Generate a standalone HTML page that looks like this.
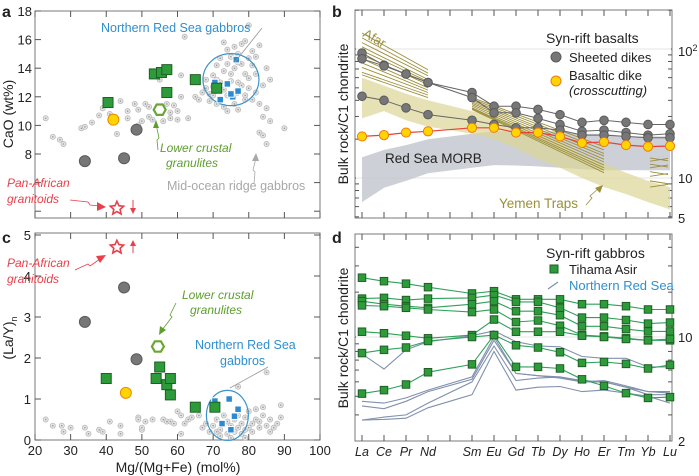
<!DOCTYPE html>
<html><head><meta charset="utf-8"><style>
html,body{margin:0;padding:0;background:#fff;}
svg{display:block;font-family:"Liberation Sans",Arial,sans-serif;}
</style></head><body>
<svg id="fig" width="699" height="476" viewBox="0 0 699 476" xmlns="http://www.w3.org/2000/svg"></svg>
<script>
// ---------- DATA ----------
const mgA_green=[40.5,53.5,55.5,57,57,65,71];
const caA_green=[11.6,13.6,13.7,13.9,12.3,13.2,12.6];
const mgA_blue=[70.5,74,76.5,75.5,76.5,77,72,75];
const caA_blue=[13.0,12.9,14.6,12.0,12.3,12.4,11.8,12.2];
const mgA_gray=[34,45,48.5];
const caA_gray=[7.5,7.7,9.7];
const mgA_yellow=[42]; const caA_yellow=[10.4];
const mgA_hex=[55]; const caA_hex=[11.1];
const mgA_star=[43]; const caA_star=[4.2];
const mgA_bg=[23,25,27,28,33,34,36,38,39,41,43,44,46,46,48,49,49,50,51,52,52,53,55,56,57,58,58,59,60,60,61,61,62,63,65,66,67,68,69,69,70,70,71,71,72,72,73,73,73,74,74,74,75,75,76,76,76,77,77,77,78,78,78,79,79,79,80,80,80,80,81,81,82,82,83,83,84,84,85,85,86,86,83,84,85,90,81,82,72,74,70,71,75,77,79,68,73];
const caA_bg=[10.5,9.2,9,8.7,9.8,9.9,10.2,10.7,11.2,10.8,9.4,11.7,10.5,11,11.5,11.1,10,10.3,11.5,10.6,11.3,10.4,13.2,10.3,11.5,10.9,10.5,11.4,11,10.4,12,13.5,16.2,10.5,12,11.8,12.3,12.6,11.7,12.2,13.5,12.1,14.2,11.5,13,14.7,11.3,13.8,12.5,14.3,15.3,11,14.8,13.6,15.5,14,11.5,13,15,11.1,15.7,12.8,14.3,13.6,15.9,11.8,14.7,12.6,13.3,17,15.2,14.2,12.3,13.6,15.6,11.5,12.8,10.6,11.2,14,13.2,10.3,9.5,9.3,8.7,9.8,11.8,14.8,11.8,12.1,12.7,13.2,13.1,14.4,12.1,13.2,15.8];

const mgC_green=[40,54,55,57,58,58,65,70.5];
const laC_green=[1.5,1.5,1.78,1.35,1.5,1.1,0.8,0.8];
const mgC_blue=[70.5,74.5,77,76,72.5,75];
const laC_blue=[0.95,1.0,0.75,0.58,0.4,0.25];
const mgC_gray=[34,45,48.5]; const laC_gray=[2.88,3.72,1.97];
const mgC_yellow=[45.5]; const laC_yellow=[1.15];
const mgC_hex=[54.5]; const laC_hex=[2.28];
const mgC_star=[43]; const laC_star=[4.7];
const mgC_bg=[23,25,27.5,28,30,34,35,38,39,41,44,44,49,49,50,50,51,53,56,57,58,59,60,61,61,62,63,64,66,67,68,69,70,71,71,72,73,74,74,75,76,76,77,77,78,78,79,79,80,80,81,81,82,82,83,83,84,84,85,85,86,86,87,88,89,89,75,72,79,77];
const laC_bg=[0.5,0.35,0.35,0.2,0.3,0.3,0.15,0.25,0.2,0.45,0.35,0.15,0.55,0.5,0.25,0.3,0.45,0.5,0.5,0.45,0.45,0.4,0.7,0.6,0.15,0.4,0.5,0.55,0.6,0.3,0.4,0.2,0.35,0.5,0.2,0.25,0.6,0.15,0.45,0.35,0.2,0.5,0.3,1.3,0.4,0.15,0.25,0.55,0.3,0.7,0.4,0.2,0.5,0.75,0.3,0.45,0.6,0.8,0.35,1.65,0.2,0.5,0.3,0.4,0.85,0.55,0.05,0.1,0.05,0.6];

const ree=["La","Ce","Pr","Nd","Pm","Sm","Eu","Gd","Tb","Dy","Ho","Er","Tm","Yb","Lu"];
const reeIdx=[0,1,2,3,5,6,7,8,9,10,11,12,13,14];
const dike1=[93,75,64,55,46,36,36,34,31,27,28,27,26,26];
const dike2=[84,74,64,55,42,32,32,29,26,23,23.5,22.5,21.5,22];
const dike3=[43,40,35,31,28,26,24.5,24.5,23.5,21.5,21.5,21,20.5,20.5];
const crossDike=[21,21.5,22.5,23,24.5,24.5,22.5,22.5,21,18.7,19,18,17.5,17.7];
const yemenUpper=[60,52,45,40,33,30,26,22,19,15,13,11,9.5,8.5];
const yemenLower=[29,33,28,25,22,20,17,14,12,10,8.5,7.5,6.5,5.7];
const morbUpper=[14.5,16.5,18,20,22,23,23,23,23,22,22,21,21,21];
const morbLower=[6.5,8.4,9.5,10.9,12,12.6,12.5,12.3,12,11.7,11.5,11.5,11.5,11.5];
const afarLa=[133,122,112,104,97,90,84,78,72,66,63];
const afarNd=[69,65,62,58,56,53,50,48,46,44,42];
const yemenSm=[42,41,40,39,38,37,36,35,34.5,34];
const yemenEr=[17.5,16.5,15.5,14.8,14,13.3,12.6,12,11.5,11];
const ybluSeg=[14.3,13.5,12.8,12,11.2,10.3,9.5,8.5];

const tihama=[
[25,23.7,22.8,21.6,19.6,20.3,17.9,17.9,17.9,16.6,16.6,16.1,15.3,15.3],
[18.1,18.3,17.7,18.1,18.3,19.1,17.2,17.2,15.7,13.5,13.5,13,12.3,12.5],
[17.4,16.6,16.1,15.7,16.6,17.4,14.9,14.9,14,11.8,11.8,11.3,10.9,10.9],
[16.3,16.1,15.7,15.3,14.7,15.3,12.6,12.9,11.9,10.3,10.1,9.8,9.5,9.5],
[10.85,10.6,10.2,9.8,10.3,13.1,10.85,10.85,10.85,10.2,10,9.7,9.5,9.7],
[7.8,8.2,8.5,9.4,10,10.3,8.8,8.5,7.9,6.7,6.8,6.6,6.15,6.5],
[4.17,4.4,4.8,5.8,6.55,10.3,6.3,6.3,6.15,5.2,4.7,4.2,3.9,3.95]];
const nrs=[
[7.7,6.1,8.2,9.3,10.2,11.0,9.3,8.7,8.6,7.4,7.2,7.2,6.3,6.3],
[3.7,3.6,3.9,4.4,5.4,10,5.7,5.5,5.4,5.0,5.1,4.7,4.3,4.3],
[3.45,3.3,3.7,4.3,5.2,9.5,5.7,5.5,5.3,5.0,5.0,4.6,4.3,4.2],
[2.77,2.9,3.0,3.6,5.0,8.7,5.1,5.3,5.4,5.1,5.0,4.6,4.1,4.1],
[2.77,2.8,2.85,3.35,4.1,8.0,4.4,4.6,4.65,4.3,4.4,4.2,4.0,3.6]];

// ---------- HELPERS ----------
const NS="http://www.w3.org/2000/svg";
const fig=document.getElementById('fig');
function mk(tag,attrs,parent,text){const e=document.createElementNS(NS,tag);for(const k in attrs)e.setAttribute(k,attrs[k]);if(text!==undefined)e.textContent=text;(parent||fig).appendChild(e);return e;}
const xA=v=>35+(v-20)*(285/80);
const yA=v=>11+(18-v)*14.3;
const yC=v=>440-v*41;
const xR=i=>362+i*22;
const yB=v=>178-(Math.log10(v)-1)*129;
const yD=v=>337-(Math.log10(v)-1)*149;

// ---------- FRAMES ----------
function frame(x0,y0,x1,y1,name){const r=mk('rect',{x:x0,y:y0,width:x1-x0,height:y1-y0,fill:'none',stroke:'#7a7a7a','stroke-width':1});}
frame(35,11,320,218,'panel-a-frame');
frame(35,233,320,440,'panel-c-frame');
frame(355,10,672,218,'panel-b-frame');
frame(355,234,672,441,'panel-d-frame');
const tk={stroke:'#555','stroke-width':1};
for(let v=20;v<=100;v+=10){const x=xA(v);
 mk('line',Object.assign({x1:x,y1:11,x2:x,y2:17},tk));mk('line',Object.assign({x1:x,y1:218,x2:x,y2:212},tk));
 mk('line',Object.assign({x1:x,y1:233,x2:x,y2:239},tk));mk('line',Object.assign({x1:x,y1:440,x2:x,y2:434},tk));
 const t=mk('text',{x:x,y:455,'font-size':13,'text-anchor':'middle',fill:'#222'},fig,String(v));
 }
for(let v=4;v<=18;v+=2){const y=yA(v);mk('line',Object.assign({x1:35,y1:y,x2:41,y2:y},tk));mk('line',Object.assign({x1:320,y1:y,x2:314,y2:y},tk));
 if(v>=8){const t=mk('text',{x:32,y:y+5,'font-size':13,'text-anchor':'end',fill:'#222'},fig,String(v));}}
for(let v=0;v<=5;v++){const y=yC(v);mk('line',Object.assign({x1:35,y1:y,x2:41,y2:y},tk));mk('line',Object.assign({x1:320,y1:y,x2:314,y2:y},tk));
 const t=mk('text',{x:31,y:y+5,'font-size':13,'text-anchor':'end',fill:'#222'},fig,String(v));}
for(let i=0;i<15;i++){const x=xR(i);
 mk('line',Object.assign({x1:x,y1:10,x2:x,y2:16},tk));mk('line',Object.assign({x1:x,y1:218,x2:x,y2:212},tk));
 mk('line',Object.assign({x1:x,y1:234,x2:x,y2:240},tk));mk('line',Object.assign({x1:x,y1:441,x2:x,y2:435},tk));
 if(ree[i]!=="Pm"){const t=mk('text',{x:x,y:456,'font-size':12.5,'font-style':'italic','text-anchor':'middle',fill:'#222'},fig,ree[i]);}}
[5,6,7,8,9,10,20,30,40,50,60,70,80,90,100,200].forEach(v=>{const y=yB(v);if(y<10||y>218)return;const L=(v===10||v===100)?6:4;mk('line',Object.assign({x1:355,y1:y,x2:355+L,y2:y},tk));mk('line',Object.assign({x1:672,y1:y,x2:672-L,y2:y},tk));});
[2,3,4,5,6,7,8,9,10,20,30,40,50].forEach(v=>{const y=yD(v);if(y<234||y>441)return;const L=(v===10)?6:4;mk('line',Object.assign({x1:355,y1:y,x2:355+L,y2:y},tk));mk('line',Object.assign({x1:672,y1:y,x2:672-L,y2:y},tk));});
mk('line',{x1:356,y1:yB(100),x2:671,y2:yB(100),stroke:'#e6e6e6'});
mk('line',{x1:356,y1:yB(10),x2:671,y2:yB(10),stroke:'#e6e6e6'});
mk('line',{x1:356,y1:yD(10),x2:671,y2:yD(10),stroke:'#e6e6e6'});
function txt(x,y,s,attrs,name){const t=mk('text',Object.assign({x:x,y:y,'font-size':13,fill:'#222'},attrs||{}),fig,s);return t;}
const r1=txt(678,56,'10',{},'y-tick-100');mk('tspan',{dy:-5,'font-size':9},r1,'2');
txt(678,183,'10',{},'y-tick-10-b');txt(678,223,'5',{},'y-tick-5');
txt(678,342,'10',{},'y-tick-10-d');txt(678,446,'2',{},'y-tick-2');
txt(2,17,'a',{'font-size':16,'font-weight':'bold'},'panel-label-a');
txt(332,17,'b',{'font-size':16,'font-weight':'bold'},'panel-label-b');
txt(2,243,'c',{'font-size':16,'font-weight':'bold'},'panel-label-c');
txt(332,243,'d',{'font-size':16,'font-weight':'bold'},'panel-label-d');
txt(0,0,'CaO (wt%)',{'font-size':14,'text-anchor':'middle',transform:'translate(13,114) rotate(-90)'},'y-axis-title-a');
const lt=txt(0,0,'(La/Y)',{'font-size':14,'text-anchor':'middle',transform:'translate(13,338) rotate(-90)'},'y-axis-title-c');mk('tspan',{dy:4,'font-size':9},lt,'n');
txt(178,472,'Mg/(Mg+Fe) (mol%)',{'font-size':14,'text-anchor':'middle'},'x-axis-title');
txt(0,0,'Bulk rock/C1 chondrite',{'font-size':14,'text-anchor':'middle',transform:'translate(348,114) rotate(-90)'},'y-axis-title-b');
txt(0,0,'Bulk rock/C1 chondrite',{'font-size':14,'text-anchor':'middle',transform:'translate(348,338) rotate(-90)'},'y-axis-title-d');

// ---------- MARKERS ----------
function bgDot(x,y,name){const g=mk('g',{});
 mk('circle',{cx:x,cy:y,r:2.6,fill:'#e4e4e4',stroke:'#b5b5b5','stroke-width':0.7},g);mk('circle',{cx:x,cy:y,r:0.8,fill:'#999'},g);}
function sq(x,y,s,fill,stroke,name){const r=mk('rect',{x:x-s/2,y:y-s/2,width:s,height:s,fill:fill,stroke:stroke,'stroke-width':1});}
function circ(x,y,r,fill,stroke,name){const c=mk('circle',{cx:x,cy:y,r:r,fill:fill,stroke:stroke,'stroke-width':1});}
function hex(x,y,name){let p=[];for(let k=0;k<6;k++){const a=Math.PI/3*k;p.push((x+6*Math.cos(a)).toFixed(1)+','+(y+6*Math.sin(a)).toFixed(1));}
 const h=mk('polygon',{points:p.join(' '),fill:'#fff',stroke:'#6aa632','stroke-width':2.2});}
function star(x,y,name){let p=[];for(let k=0;k<10;k++){const a=-Math.PI/2+Math.PI/5*k;const r=k%2?3.3:7;p.push((x+r*Math.cos(a)).toFixed(1)+','+(y+r*Math.sin(a)).toFixed(1));}
 const s=mk('polygon',{points:p.join(' '),fill:'#fff',stroke:'#e8404a','stroke-width':1.6});}

mgA_bg.forEach((m,i)=>bgDot(xA(m),yA(caA_bg[i]),'mor-gabbro-point'));
const ea=mk('ellipse',{cx:xA(75),cy:yA(13.2),rx:28,ry:26,fill:'none',stroke:'#3b93c9','stroke-width':1.2});
mgA_blue.forEach((m,i)=>sq(xA(m),yA(caA_blue[i]),6.5,'#2b8ad0','#fff','nrs-gabbro-a'));
mgA_green.forEach((m,i)=>sq(xA(m),yA(caA_green[i]),10,'#2e9b3b','#1f5f24','tihama-gabbro-a'));
mgA_gray.forEach((m,i)=>circ(xA(m),yA(caA_gray[i]),5.5,'#777','#5a5a5a','sheeted-dike-a'));
mgA_yellow.forEach((m,i)=>circ(xA(m),yA(caA_yellow[i]),5.5,'#ffd400','#e88a00','basaltic-dike-a'));
mgA_hex.forEach((m,i)=>hex(xA(m),yA(caA_hex[i]),'granulite-a'));
mgA_star.forEach((m,i)=>star(xA(m),yA(caA_star[i]),'granitoid-a'));
mgC_bg.forEach((m,i)=>bgDot(xA(m),yC(laC_bg[i]),'mor-gabbro-point'));
const ec=mk('ellipse',{cx:xA(74),cy:yC(0.6),rx:21,ry:25,fill:'none',stroke:'#3b93c9','stroke-width':1.2});
mgC_blue.forEach((m,i)=>sq(xA(m),yC(laC_blue[i]),6.5,'#2b8ad0','#fff','nrs-gabbro-c'));
mgC_green.forEach((m,i)=>sq(xA(m),yC(laC_green[i]),10,'#2e9b3b','#1f5f24','tihama-gabbro-c'));
mgC_gray.forEach((m,i)=>circ(xA(m),yC(laC_gray[i]),5.5,'#777','#5a5a5a','sheeted-dike-c'));
mgC_yellow.forEach((m,i)=>circ(xA(m),yC(laC_yellow[i]),5.5,'#ffd400','#e88a00','basaltic-dike-c'));
mgC_hex.forEach((m,i)=>hex(xA(m),yC(laC_hex[i]),'granulite-c'));
mgC_star.forEach((m,i)=>star(xA(m),yC(laC_star[i]),'granitoid-c'));

const blue='#2f8fcf',green='#5e9e2e',red='#e8404a',gray='#a8a8a8';
txt(101,32,'Northern Red Sea gabbros',{'font-size':12.5,fill:blue},'label-nrs-a');
mk('line',{x1:262,y1:28,x2:235,y2:62,stroke:'#999','stroke-width':0.8});
txt(160,152,'Lower crustal',{'font-size':12,'font-style':'italic',fill:green},'label-granulites-a');
txt(166,167,'granulites',{'font-size':12,'font-style':'italic',fill:green},'label-granulites-a2');
mk('polyline',{points:'158,150 157,140 159,138 156,124',fill:'none',stroke:green,'stroke-width':0.8});
mk('polygon',{points:'156,120 153,128 159,128',fill:green});
txt(167,190,'Mid-ocean ridge gabbros',{'font-size':12.5,fill:gray},'label-mor-gabbros');
mk('polyline',{points:'254,184 255,172 253,170 256,158',fill:'none',stroke:gray,'stroke-width':0.8});
mk('polygon',{points:'256,153 252,161 259,161',fill:gray});
txt(7,187,'Pan-African',{'font-size':12,'font-style':'italic',fill:red},'label-panafrican-a');
txt(7,203,'granitoids',{'font-size':12,'font-style':'italic',fill:red},'label-panafrican-a2');
mk('polyline',{points:'70,200 88,202 90,205 100,206',fill:'none',stroke:red,'stroke-width':0.8});
mk('polygon',{points:'106,207 97,202 97,211',fill:red});
mk('line',{x1:133,y1:200,x2:133,y2:212,stroke:red,'stroke-width':1});mk('polygon',{points:'133,214 130,208 136,208',fill:red});
mk('line',{x1:133,y1:253,x2:133,y2:242,stroke:red,'stroke-width':1});mk('polygon',{points:'133,240 130,246 136,246',fill:red});
txt(7,267,'Pan-African',{'font-size':12,'font-style':'italic',fill:red},'label-panafrican-c');
txt(7,283,'granitoids',{'font-size':12,'font-style':'italic',fill:red},'label-panafrican-c2');
mk('polyline',{points:'75,270 88,264 90,266 100,259',fill:'none',stroke:red,'stroke-width':0.8});
mk('polygon',{points:'106,255 96,256 100,263',fill:red});
txt(182,299,'Lower crustal',{'font-size':12,'font-style':'italic',fill:green},'label-granulites-c');
txt(190,314,'granulites',{'font-size':12,'font-style':'italic',fill:green},'label-granulites-c2');
mk('polyline',{points:'176,303 170,315 172,317 162,330',fill:'none',stroke:green,'stroke-width':0.8});
mk('polygon',{points:'159,335 160,326 166,330',fill:green});
txt(195,349,'Northern Red Sea',{'font-size':12.5,fill:blue},'label-nrs-c');
txt(220,365,'gabbros',{'font-size':12.5,fill:blue},'label-nrs-c2');
mk('line',{x1:268,y1:367,x2:230,y2:388,stroke:'#999','stroke-width':0.8});

// ---------- PANEL B ----------
function band(up,lo,fill,op,name){let p=[];up.forEach((v,i)=>p.push(xR(reeIdx[i])+','+yB(v).toFixed(1)));for(let i=lo.length-1;i>=0;i--)p.push(xR(reeIdx[i])+','+yB(lo[i]).toFixed(1));
 const e=mk('polygon',{points:p.join(' '),fill:fill,'fill-opacity':op});}
band(morbUpper,morbLower,'#c4c8cf',0.85,'red-sea-morb-band');
band(yemenUpper,yemenLower,'#ddd597',0.7,'yemen-traps-band');
const olive='#9c8f3a';
afarLa.forEach((v,i)=>{const l=mk('line',{x1:xR(0),y1:yB(v),x2:xR(3),y2:yB(afarNd[i]),stroke:olive,'stroke-width':0.9});});
yemenSm.forEach((v,i)=>{const l=mk('line',{x1:xR(5),y1:yB(v),x2:xR(11),y2:yB(yemenEr[i]),stroke:olive,'stroke-width':0.9});});
ybluSeg.forEach((v,i)=>{const l=mk('line',{x1:xR(13)+2,y1:yB(v),x2:xR(14)-2,y2:yB(v*(i%2?1.05:0.95)),stroke:olive,'stroke-width':0.9});});
function series(vals,yf,stroke,sw,name){const p=vals.map((v,i)=>xR(reeIdx[i])+','+yf(v).toFixed(1)).join(' ');const l=mk('polyline',{points:p,fill:'none',stroke:stroke,'stroke-width':sw});}
[dike1,dike2,dike3].forEach(d=>{series(d,yB,'#666',1,'sheeted-dike-line');d.forEach((v,i)=>circ(xR(reeIdx[i]),yB(v),4.3,'#777','#5a5a5a','sheeted-dike-point'));});
series(crossDike,yB,'#e8403a',1.2,'basaltic-dike-line');
crossDike.forEach((v,i)=>circ(xR(reeIdx[i]),yB(v),4.6,'#ffd400','#ee7a10','basaltic-dike-point'));
txt(362,36,'Afar',{'font-size':13,fill:olive,transform:'rotate(30 362 36)'},'label-afar');
txt(385,163,'Red Sea MORB',{'font-size':13.5,fill:'#222'},'label-red-sea-morb');
txt(499,208,'Yemen Traps',{'font-size':13.5,fill:olive},'label-yemen-traps');
mk('polyline',{points:'586,205 592,198 590,196 599,188',fill:'none',stroke:olive,'stroke-width':0.8});
mk('polygon',{points:'603,185 595,188 600,193',fill:olive});
txt(546,43,'Syn-rift basalts',{'font-size':14,fill:'#222'},'legend-title-b');
circ(556,57,5,'#777','#5a5a5a','legend-sheeted-dike-marker');
txt(569,62,'Sheeted dikes',{'font-size':13,fill:'#222'},'legend-sheeted-dikes');
circ(556,81,5,'#ffd400','#ee7a10','legend-basaltic-dike-marker');
txt(569,80,'Basaltic dike',{'font-size':13,fill:'#222'},'legend-basaltic-dike');
txt(569,95,'(crosscutting)',{'font-size':13,'font-style':'italic',fill:'#222'},'legend-crosscutting');

// ---------- PANEL D ----------
nrs.forEach(d=>series(d,yD,'#8090ad',1.1,'nrs-gabbro-line'));
tihama.forEach(d=>{series(d,yD,'#2fa05a',1.1,'tihama-line');d.forEach((v,i)=>sq(xR(reeIdx[i]),yD(v),7.5,'#2e9b3b','#1f5f24','tihama-point'));});
txt(546,258,'Syn-rift gabbros',{'font-size':14,fill:'#222'},'legend-title-d');
sq(554,269,8,'#2e9b3b','#1f5f24','legend-tihama-marker');
txt(569,274,'Tihama Asir',{'font-size':13,fill:'#222'},'legend-tihama');
mk('line',{x1:548,y1:289,x2:558,y2:282,stroke:'#8090ad','stroke-width':1.2});
txt(569,290,'Northern Red Sea',{'font-size':13,fill:blue},'legend-nrs');
</script>
</body></html>
